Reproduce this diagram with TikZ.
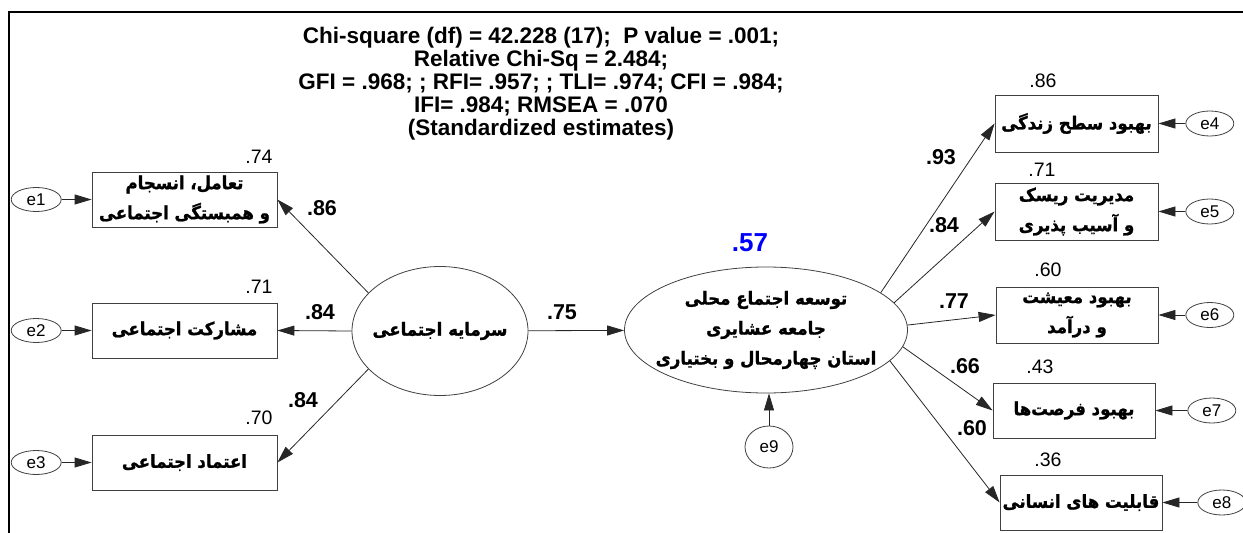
\documentclass[tikz,border=0pt]{standalone}
\usepackage{fontspec}
\setmainfont{Liberation Sans}
\newfontfamily\farsifont[Script=Arabic, FakeStretch=0.92, BoldFeatures={FakeBold=1.2}]{DejaVu Sans}
\TeXXeTstate=1
\usetikzlibrary{positioning, shapes.geometric, arrows.meta}
\newcommand{\fa}[1]{{\farsifont\bfseries\beginR #1\endR}}
\tikzset{observed/.style={rectangle, minimum width=163pt, minimum height=56pt, align=center, draw=black!75, line width=0.8pt, inner sep=0pt, font=\fontsize{18}{30}\selectfont},
         latent/.style={ellipse, align=center, draw=black!75, line width=0.8pt, inner xsep=-18pt, inner ysep=0pt, font=\fontsize{18}{30}\selectfont},
         error/.style={ellipse, minimum width=48pt, minimum height=25pt, draw=black!75, line width=0.8pt, inner sep=0pt, font=\fontsize{17}{17}\selectfont},
         rsq/.style={inner sep=0pt, font=\fontsize{19.5}{19.5}\selectfont},
         coef/.style={inner sep=0pt, font=\bfseries\fontsize{21.5}{21.5}\selectfont},
         link/.style={->, line width=0.8pt, draw=black!85}}

\begin{document}
\begin{tikzpicture}[x=1pt, y=-1pt, >={Triangle[length=17pt, width=10pt]}]
        \useasboundingbox (0,0) rectangle (1243,533);
        \draw [line width=2.5pt] (9,533) -- (9,12) -- (1243,12);
        \node (fit)[align=center, font=\bfseries\fontsize{22.5}{23}\selectfont] at (541,84) {Chi-square (df) = 42.228 (17);\ \ P value = .001;\\ Relative Chi-Sq = 2.484;\\ GFI = .968; ; RFI= .957; ; TLI= .974; CFI = .984;\\ IFI= .984; RMSEA = .070\\ (Standardized estimates)};
        % social capital
        \node (social)[latent, minimum width=176pt, minimum height=129pt] at (440,331) {\fa{سرمایه اجتماعی}};
        \node (box1)[observed, minimum width=185pt, minimum height=55pt] at (184.5,199.5) {\fa{تعامل، انسجام}\\ \fa{و  همبستگی اجتماعی}};
        \node (box2)[observed, minimum width=185pt, minimum height=55pt] at (184.5,330.5) {\fa{مشارکت اجتماعی}};
        \node (box3)[observed, minimum width=185pt, minimum height=55pt] at (184.5,462.5) {\fa{اعتماد اجتماعی}};
        \node (e1)[error, minimum width=50pt, minimum height=24pt, left=30pt of box1]{e1};
        \node (e2)[error, minimum width=50pt, minimum height=24pt, left=30pt of box2]{e2};
        \node (e3)[error, minimum width=50pt, minimum height=24pt, left=30pt of box3]{e3};
        \draw [link] (e1) -- (box1);
        \draw [link] (e2) -- (box2);
        \draw [link] (e3) -- (box3);
        \draw [link] (social.152) -- (box1.east);
        \draw [link] (social.180) -- (box2.east);
        \draw [link] (social.208) -- (box3.east);
        \node (r1)[rsq] at (259,157) {.74};
        \node (r2)[rsq] at (259,287) {.71};
        \node (r3)[rsq] at (259,418) {.70};
        \node (c1)[coef] at (322,208) {.86};
        \node (c2)[coef] at (320,312) {.84};
        \node (c3)[coef] at (303,400) {.84};
        % local community development
        \node (dev)[latent, minimum width=283pt, minimum height=126pt] at (766,330) {\fa{توسعه اجتماع محلی}\\ \fa{جامعه عشایری}\\ \fa{استان چهارمحال و بختیاری}};
        \draw [link] (social) -- (dev);
        \node (c0)[coef] at (562,312) {.75};
        \node (r0)[coef, font=\bfseries\fontsize{26}{26}\selectfont, text=blue] at (750,243) {.57};
        \node (e9)[error, minimum width=48pt, minimum height=42pt] at (769,447) {e9};
        \draw [link] (e9) -- (e9 |- dev.south);
        \node (box4)[observed, minimum height=57pt] at (1076.5,123.5) {\fa{بهبود سطح زندگی}};
        \node (box5)[observed, minimum height=57pt] at (1076.5,211.5) {\fa{مدیریت ریسک}\\ \fa{و آسیب پذیری}};
        \node (box6)[observed, minimum width=162pt] at (1077,315) {\fa{بهبود معیشت}\\ \fa{و درآمد}};
        \node (box7)[observed, minimum width=162pt, minimum height=55pt] at (1074,410.5) {\fa{بهبود فرصت‌ها}};
        \node (box8)[observed, minimum width=162pt, minimum height=55pt] at (1081,502.5) {\fa{قابلیت های انسانی}};
        \node (e4)[error, right=27pt of box4]{e4};
        \node (e5)[error, right=27pt of box5]{e5};
        \node (e6)[error, right=27pt of box6]{e6};
        \node (e7)[error, right=32pt of box7]{e7};
        \node (e8)[error, right=35pt of box8]{e8};
        \draw [link] (e4) -- (box4);
        \draw [link] (e5) -- (box5);
        \draw [link] (e6) -- (box6);
        \draw [link] (e7) -- (box7);
        \draw [link] (e8) -- (box8);
        \draw [link] (dev.18) -- (box4.west);
        \draw [link] (dev.12) -- (box5.west);
        \draw [link] (dev.2) -- (box6.west);
        \draw [link] (dev.-7.5) -- (box7.west);
        \draw [link] (dev.-14.5) -- (box8.west);
        \node (r4)[rsq] at (1043,81) {.86};
        \node (r5)[rsq] at (1042,170) {.71};
        \node (r6)[rsq] at (1048,270) {.60};
        \node (r7)[rsq] at (1040,367) {.43};
        \node (r8)[rsq] at (1048,460) {.36};
        \node (c4)[coef] at (941,157) {.93};
        \node (c5)[coef] at (944,225) {.84};
        \node (c6)[coef] at (954,301) {.77};
        \node (c7)[coef] at (965,366) {.66};
        \node (c8)[coef] at (972,428) {.60};
    \end{tikzpicture}
\end{document}
